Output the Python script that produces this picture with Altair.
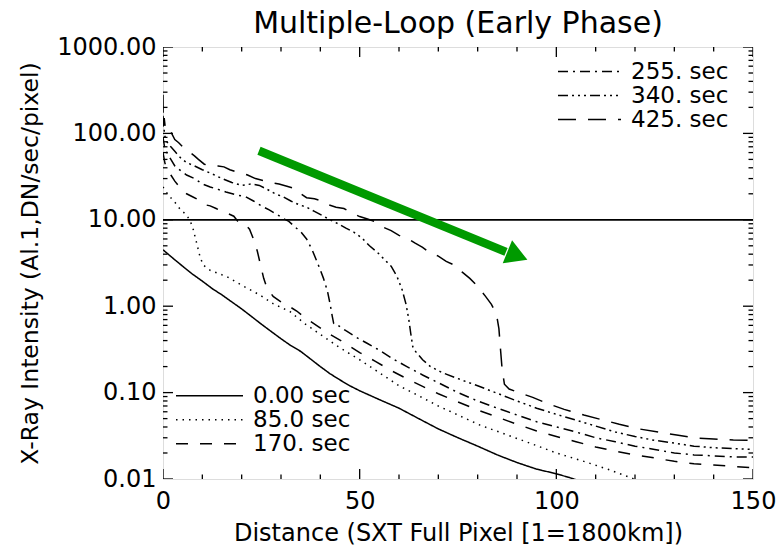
import altair as alt
import pandas as pd

FONT = "DejaVu Sans"

labels = ["0.00 sec", "85.0 sec", "170. sec", "255. sec", "340. sec", "425. sec"]
dashes = [[1, 0], [1.5, 5], [12, 12], [10, 5, 2, 5], [10, 4, 2, 4, 2, 4, 2, 4], [18, 12]]

x_so = [0, 2.5, 5, 7.5, 10, 12.5, 15, 17.5, 20, 22.5, 25, 27.5, 30, 32.5, 35, 37.5, 40, 42.5, 45, 47.5,
        50, 55, 60, 65, 70, 75, 80, 85, 90, 95, 100, 103, 106]
y_so = [4.5, 3.6, 2.9, 2.35, 1.95, 1.6, 1.35, 1.12, 0.93, 0.76, 0.62, 0.51, 0.42, 0.35, 0.3, 0.245, 0.2,
        0.165, 0.14, 0.12, 0.105, 0.083, 0.066, 0.05, 0.038, 0.03, 0.024, 0.019, 0.0155, 0.013, 0.0115,
        0.0105, 0.0095]

x_do = [0, 0.5, 1.5, 3.0, 4.5, 6.0, 7.0, 7.7, 8.5, 9.4, 10.2, 12.0, 14.0, 16.2, 20.0, 24.6, 28.0, 32.3,
        36.0, 40.8, 45.0, 50.0, 55.0, 60.0, 65.0, 70.0, 75.0, 80.6, 87.0, 93.3, 100.0, 107.0, 113.7, 120.0]
y_do = [24, 22, 19, 16, 13, 11.4, 9.5, 7.7, 5.5, 3.76, 3.0, 2.6, 2.4, 2.2, 1.75, 1.35, 1.07, 0.865, 0.63,
        0.445, 0.33, 0.24, 0.17, 0.12, 0.092, 0.07, 0.055, 0.042, 0.033, 0.026, 0.02, 0.016, 0.0127, 0.0099]

x_da = [0, 0.5, 1.0, 2.0, 3.0, 4.5, 6.0, 7.5, 9.0, 10.5, 12.0, 13.5, 15.0, 16.5, 18.0, 19.0, 20.0, 21.0,
        22.0, 23.0, 24.0, 24.8, 25.6, 26.5, 28.0, 30.0, 32.0, 34.0, 36.0, 39.0, 42.5, 46.0, 50.0, 54.0,
        58.0, 62.0, 66.0, 70.0, 75.0, 80.0, 85.0, 90.0, 95.0, 100.0, 105.0, 110.0, 115.0, 120.0, 125.0,
        130.0, 135.0, 140.0, 145.0, 150.0]
y_da = [60, 45, 40, 33, 28, 23, 20, 18.5, 17, 15, 14.5, 13.5, 12.5, 11.8, 11, 9.6, 8.8, 8.7, 7.8, 6.0,
        4.3, 3.0, 2.1, 1.6, 1.3, 1.12, 1.0, 0.88, 0.74, 0.6, 0.47, 0.38, 0.29, 0.23, 0.18, 0.145, 0.118,
        0.097, 0.078, 0.063, 0.052, 0.043, 0.036, 0.031, 0.027, 0.0235, 0.021, 0.019, 0.0175, 0.016,
        0.015, 0.0145, 0.014, 0.0135]

x_dd = [0, 0.5, 1.0, 2.0, 3.0, 4.5, 6.0, 8.0, 10.0, 12.0, 14.0, 16.0, 18.5, 21.0, 23.0, 25.0, 27.0,
        29.0, 30.5, 32.0, 33.5, 35.0, 36.5, 38.0, 39.5, 40.8, 41.8, 42.5, 43.0, 43.4, 44.5, 46.5, 49.0,
        52.0, 55.0, 58.5, 62.0, 66.0, 70.0, 75.0, 80.0, 85.0, 90.0, 95.0, 100.0, 105.0, 110.0, 115.0,
        120.0, 125.0, 130.0, 135.0, 140.0, 145.0, 150.0]
y_dd = [90, 65, 60, 50, 42, 37, 33, 30, 26, 24, 22.5, 21, 19.5, 18.5, 16.5, 14.5, 13, 11.5, 10.4, 9.6,
        8.3, 7.3, 6.0, 4.4, 3.0, 2.1, 1.5, 1.05, 0.78, 0.63, 0.6, 0.52, 0.44, 0.37, 0.31, 0.245, 0.2,
        0.16, 0.13, 0.1, 0.08, 0.066, 0.055, 0.046, 0.04, 0.035, 0.03, 0.027, 0.024, 0.022, 0.02, 0.019,
        0.0185, 0.018, 0.018]

x_ddd = [0, 0.4, 1.0, 2.0, 3.0, 4.5, 6.0, 8.0, 10.0, 12.5, 15.0, 17.5, 20.0, 22.5, 24.5, 26.5, 28.5,
         30.5, 32.5, 34.5, 36.5, 38.5, 40.5, 42.5, 44.5, 46.5, 48.5, 50.5, 52.5, 54.5, 56.5, 58.0, 59.5,
         60.8, 61.8, 62.5, 63.0, 63.5, 64.2, 66.0, 68.0, 71.0, 75.0, 80.0, 85.0, 90.0, 95.0, 100.0,
         105.0, 110.0, 115.0, 120.0, 125.0, 130.0, 135.0, 140.0, 145.0, 150.0]
y_ddd = [160, 95, 80, 70, 62, 52, 46, 42, 38, 34, 30, 27, 25, 26, 25, 22.5, 20, 18.5, 16.5, 15, 14,
         12.5, 11.2, 10, 9, 8, 7.2, 6.2, 5, 4.2, 3.4, 2.9, 2.2, 1.55, 1.05, 0.7, 0.48, 0.34, 0.3, 0.24,
         0.2, 0.17, 0.145, 0.12, 0.098, 0.08, 0.066, 0.056, 0.048, 0.041, 0.035, 0.031, 0.028, 0.026,
         0.024, 0.023, 0.0225, 0.022]

x_ld = [0, 0.05, 0.3, 0.6, 1.0, 1.5, 2.2, 3.0, 4.0, 5.0, 6.5, 8.0, 9.0, 10.5, 12.0, 14.0, 15.5, 17.0,
        18.5, 20.0, 21.5, 23.5, 25.5, 27.5, 29.5, 31.5, 33.5, 35.0, 36.5, 38.5, 40.5, 42.0, 44.0, 46.0,
        48.0, 50.0, 52.0, 54.0, 56.0, 58.0, 60.0, 62.0, 64.0, 66.0, 68.0, 70.0, 72.0, 74.0, 76.0, 78.0,
        80.0, 82.0, 83.5, 84.8, 85.4, 85.8, 86.2, 86.8, 88.0, 90.5, 94.0, 98.0, 102.0, 107.0, 112.0,
        116.0, 121.0, 126.0, 131.0, 135.0, 140.0, 145.0, 150.0]
y_ld = [280, 120, 150, 115, 105, 110, 100, 85, 78, 70, 62, 55, 50, 44, 42, 42, 41, 38, 36, 35, 33, 30,
        28.5, 27, 26, 24.5, 23, 20, 18, 17.5, 16.5, 15, 14, 13.5, 12, 10.9, 10.2, 9.5, 8.2, 7.5, 6.6,
        6.2, 5.4, 4.8, 4.1, 3.8, 3.3, 3.0, 2.5, 2.1, 1.7, 1.3, 1.05, 0.8, 0.55, 0.32, 0.19, 0.125, 0.11,
        0.1, 0.088, 0.074, 0.064, 0.055, 0.048, 0.043, 0.038, 0.035, 0.032, 0.03, 0.029, 0.0283, 0.028]

# axis decoration ticks (inward, IDL style)
y_major = [0.01, 0.1, 1, 10, 100, 1000]
y_minor = [0.02, 0.03, 0.04, 0.05, 0.06, 0.07, 0.08, 0.09,
           0.2, 0.3, 0.4, 0.5, 0.6, 0.7, 0.8, 0.9,
           2, 3, 4, 5, 6, 7, 8, 9,
           20, 30, 40, 50, 60, 70, 80, 90,
           200, 300, 400, 500, 600, 700, 800, 900]
x_major = [0, 50, 100, 150]
x_minor = [10, 20, 30, 40, 60, 70, 80, 90, 110, 120, 130, 140]

# green arrow
arrow_x = [24.4, 87.2]
arrow_y = [63, 4.26]
head_x = [90.1]
head_y = [3.83]

series = [(x_so, y_so), (x_do, y_do), (x_da, y_da), (x_dd, y_dd), (x_ddd, y_ddd), (x_ld, y_ld)]
rows = []
for lab, (xs, ys) in zip(labels, series):
    for i, (a, b) in enumerate(zip(xs, ys)):
        rows.append({"s": lab, "x": a, "y": b, "i": i})
df = pd.DataFrame(rows)

xscale = alt.Scale(domain=[0, 150], nice=False, zero=False)
yscale = alt.Scale(type="log", domain=[0.01, 1000], nice=False)

xaxis = alt.Axis(values=x_major, ticks=False, domain=False, grid=False, labelFont=FONT,
                 labelFontSize=24, labelColor="black", labelPadding=10,
                 title="Distance (SXT Full Pixel [1=1800km])", titleFont=FONT, titleFontSize=24,
                 titleFontWeight="normal", titleColor="black", titlePadding=8, labelFlush=False)
yaxis = alt.Axis(values=y_major, format=".2f", ticks=False, domain=False, grid=False, labelFont=FONT,
                 labelFontSize=24, labelColor="black", labelPadding=7,
                 title="X-Ray Intensity (Al.1,DN/sec/pixel)", titleFont=FONT, titleFontSize=23.5,
                 titleFontWeight="normal", titleColor="black", titlePadding=14, labelFlush=False)

X = alt.X("x:Q", scale=xscale)
Y = alt.Y("y:Q", scale=yscale)


def curves(names, dsh, lx, ly, ssize, rowh, with_axes):
    d = df[df["s"].isin(names)]
    xe = alt.X("x:Q", scale=xscale, axis=xaxis) if with_axes else X
    ye = alt.Y("y:Q", scale=yscale, axis=yaxis) if with_axes else Y
    return alt.Chart(d).mark_line(clip=True, strokeWidth=1.5, color="black").encode(
        x=xe,
        y=ye,
        strokeDash=alt.StrokeDash(
            "s:N", sort=names, scale=alt.Scale(domain=names, range=dsh),
            legend=alt.Legend(title=None, orient="none", legendX=lx, legendY=ly,
                              symbolType="stroke", symbolSize=ssize, symbolStrokeWidth=1.5,
                              symbolStrokeColor="black", labelFont=FONT, labelFontSize=23,
                              labelColor="black", labelOffset=9, clipHeight=rowh, rowPadding=0,
                              padding=0, labelLimit=400)),
        order="i:Q",
    )


tick_rows = []
for v in y_major:
    tick_rows += [{"x": 0, "y": v, "len": 20, "o": "h"}, {"x": 150, "y": v, "len": 20, "o": "h"}]
for v in y_minor:
    tick_rows += [{"x": 0, "y": v, "len": 9, "o": "h"}, {"x": 150, "y": v, "len": 9, "o": "h"}]
for v in x_major:
    tick_rows += [{"x": v, "y": 0.01, "len": 20, "o": "v"}, {"x": v, "y": 1000, "len": 20, "o": "v"}]
for v in x_minor:
    tick_rows += [{"x": v, "y": 0.01, "len": 9, "o": "v"}, {"x": v, "y": 1000, "len": 9, "o": "v"}]
tdf = pd.DataFrame(tick_rows)

htick = alt.Chart(tdf[tdf["o"] == "h"]).mark_tick(clip=True, orient="horizontal", color="black",
                                                  thickness=1.3, opacity=1).encode(
    x=X, y=Y, size=alt.Size("len:Q", scale=None, legend=None),
)
vtick = alt.Chart(tdf[tdf["o"] == "v"]).mark_tick(clip=True, orient="vertical", color="black",
                                                  thickness=1.3, opacity=1).encode(
    x=X, y=Y, size=alt.Size("len:Q", scale=None, legend=None),
)

ten = alt.Chart(pd.DataFrame({"y": [10]})).mark_rule(color="black", strokeWidth=1.8).encode(y=Y)

lower = curves(labels[:3], dashes[:3], 12, 337, 4489, 23.5, True)
upper = curves(labels[3:], dashes[3:], 394, 13, 3969, 23, False)

shaft = alt.Chart(pd.DataFrame({"x": arrow_x, "y": arrow_y})).mark_line(
    color="#009a00", strokeWidth=8.5, strokeCap="butt").encode(x=X, y=Y)
head = alt.Chart(pd.DataFrame({"x": head_x, "y": head_y})).mark_point(
    shape="triangle-right", filled=True, size=620, angle=22, color="#009a00", opacity=1).encode(
    x=X, y=Y)

chart = alt.layer(lower, upper, htick, vtick, ten, shaft, head).resolve_scale(
    strokeDash="independent"
).properties(
    width=590,
    height=432,
    title=alt.TitleParams("Multiple-Loop (Early Phase)", font=FONT, fontSize=30, fontWeight="normal",
                          color="black", anchor="middle", offset=14, baseline="alphabetic", dy=42),
    autosize=alt.AutoSizeParams(type="none"),
    padding={"left": 163, "top": 47, "right": 30, "bottom": 70},
).configure_view(stroke="black", strokeWidth=1.5).configure(background="white")

chart.save("out.html", embed_options={"renderer": "svg", "actions": False})
